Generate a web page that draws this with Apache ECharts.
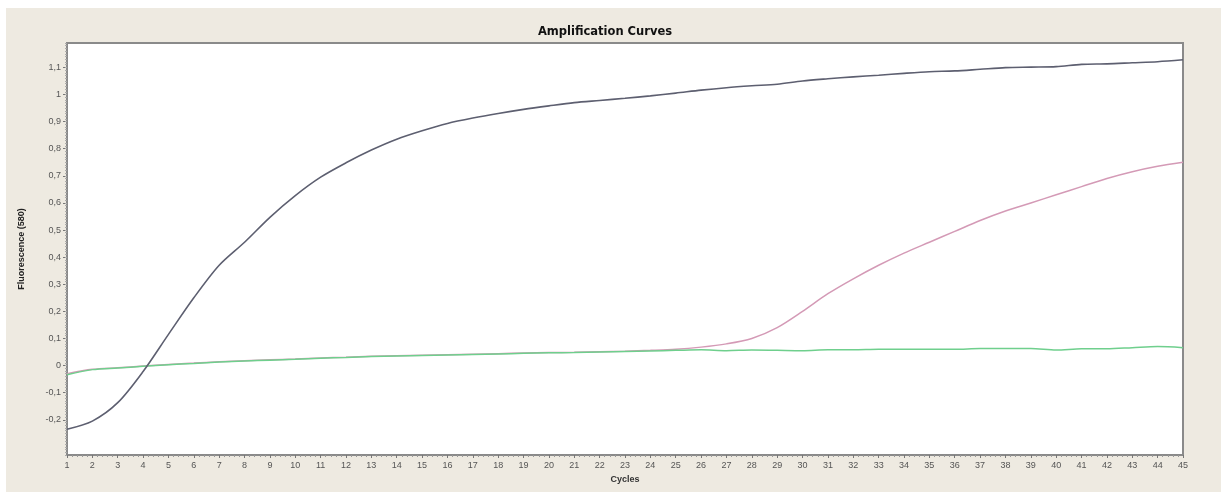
<!DOCTYPE html>
<html>
<head>
<meta charset="utf-8">
<script src="https://cdn.jsdelivr.net/npm/echarts@6/dist/echarts.min.js"></script>
<style>
html,body{margin:0;padding:0;background:#ffffff;overflow:hidden;width:100%;height:100%;}
#chart{position:absolute;left:6px;top:8px;right:0;bottom:0;background:#eeeae1;}
</style>
</head>
<body>
<div id="chart"></div>
<script>
// ---- data ----
var cycles = [];
for (var i = 1; i <= 45; i++) cycles.push(i);
var sampleA = [-0.235,-0.205,-0.137,-0.022,0.115,0.25,0.37,0.455,0.547,0.627,
  0.695,0.748,0.795,0.835,0.866,0.893,0.913,0.93,0.945,0.958,
  0.97,0.978,0.986,0.995,1.005,1.016,1.025,1.032,1.038,1.05,
  1.058,1.065,1.071,1.078,1.084,1.087,1.093,1.099,1.101,1.103,
  1.111,1.113,1.117,1.121,1.128];
var sampleB = [-0.03,-0.014,-0.008,-0.002,0.004,0.009,0.014,0.018,0.021,0.024,
  0.028,0.031,0.034,0.036,0.038,0.040,0.042,0.044,0.046,0.048,
  0.049,0.051,0.053,0.056,0.06,0.068,0.08,0.1,0.14,0.2,
  0.265,0.32,0.37,0.415,0.455,0.495,0.535,0.57,0.6,0.63,
  0.66,0.69,0.715,0.735,0.75];
var sampleC = [-0.034,-0.015,-0.009,-0.003,0.003,0.008,0.013,0.017,0.02,0.023,
  0.027,0.03,0.033,0.035,0.037,0.039,0.041,0.043,0.045,0.047,
  0.048,0.05,0.052,0.054,0.056,0.058,0.055,0.057,0.056,0.055,
  0.058,0.058,0.06,0.06,0.06,0.06,0.063,0.063,0.063,0.057,
  0.062,0.062,0.066,0.07,0.066];
var yTickValues = [-0.2,-0.1,0,0.1,0.2,0.3,0.4,0.5,0.6,0.7,0.8,0.9,1,1.1];

function pairs(arr){ return cycles.map(function(c,i){ return [c, arr[i]]; }); }
function fmt(v){
  var r = Math.round(v*10)/10;
  return String(r).replace('.', ',');
}

var chart = echarts.init(document.getElementById('chart'));
var labelFont = {fontFamily:'Liberation Sans, Arial, sans-serif', fontSize:9, color:'#555'};
chart.setOption({
  backgroundColor:'#eeeae1',
  animation:false,
  title:{
    text:'Amplification Curves',
    left:594, top:13, textAlign:'center',
    textStyle:{fontFamily:'DejaVu Sans, sans-serif', fontWeight:'bold', fontSize:11.5, color:'#111'}
  },
  grid:{left:61, right:38, top:35, bottom:37, show:true, backgroundColor:'#ffffff', borderColor:'#8a8a8a', borderWidth:2},
  xAxis:[{
    type:'value', min:1, max:45, interval:1,
    name:'Cycles', nameLocation:'middle', nameGap:18,
    nameTextStyle:{fontFamily:'Liberation Sans, Arial, sans-serif', fontSize:9, fontWeight:'bold', color:'#333'},
    axisLine:{show:true, onZero:false, lineStyle:{color:'#8a8a8a', width:2}},
    axisTick:{show:true, length:3, lineStyle:{color:'#777'}},
    minorTick:{show:true, splitNumber:5, length:2, lineStyle:{color:'#999'}},
    axisLabel:Object.assign({margin:6}, labelFont),
    splitLine:{show:false}
  }],
  yAxis:[{
    type:'value', min:-0.33, max:1.19,
    name:'Fluorescence (580)', nameLocation:'middle', nameGap:41,
    nameTextStyle:{fontFamily:'Liberation Sans, Arial, sans-serif', fontSize:9, fontWeight:'bold', color:'#222'},
    axisLine:{show:true, onZero:false, lineStyle:{color:'#8a8a8a', width:2}},
    axisTick:{show:true, length:4, customValues:yTickValues, lineStyle:{color:'#777'}},
    axisLabel:Object.assign({margin:6, customValues:yTickValues, formatter:fmt}, labelFont),
    splitLine:{show:false}
  },{
    type:'value', min:-0.33, max:1.19, interval:0.01, position:'left',
    axisLine:{show:false},
    axisTick:{show:true, length:2, lineStyle:{color:'#aaa'}},
    axisLabel:{show:false},
    splitLine:{show:false}
  }],
  series:[
    {type:'line', name:'B', data:pairs(sampleB), showSymbol:false, smooth:0.3,
     lineStyle:{color:'#d49ab6', width:1.5}, z:2},
    {type:'line', name:'C', data:pairs(sampleC), showSymbol:false, smooth:0.3,
     lineStyle:{color:'#6fcf8d', width:1.5}, z:3},
    {type:'line', name:'A', data:pairs(sampleA), showSymbol:false, smooth:0.3,
     lineStyle:{color:'#5d5f70', width:1.6}, z:4}
  ]
});
</script>
</body>
</html>
